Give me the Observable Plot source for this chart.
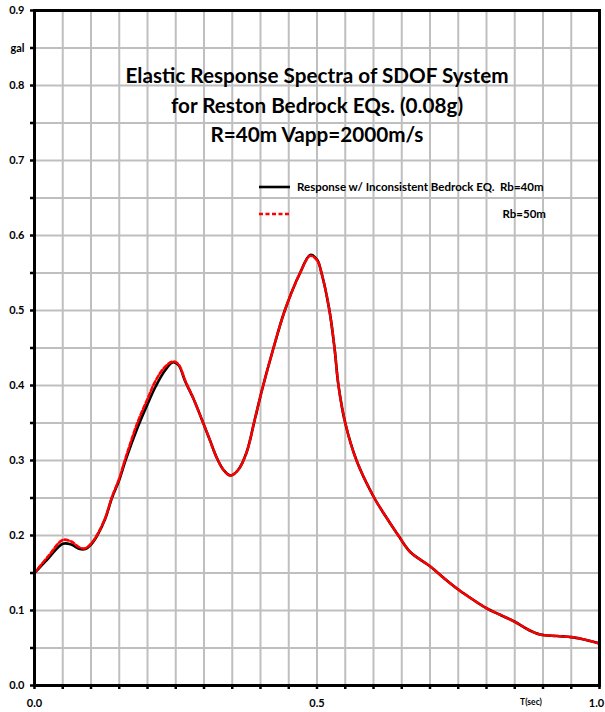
<!DOCTYPE html>
<html><head><meta charset="utf-8">
<script src="https://cdn.jsdelivr.net/npm/d3@7"></script>
<script src="https://cdn.jsdelivr.net/npm/@observablehq/plot@0.6"></script>
<style>body{margin:0;background:#fff}#chart svg{display:block;overflow:visible}</style>
</head><body><div id="chart"></div>
<script>
const periods = [0, 0.025, 0.05, 0.065, 0.08, 0.09, 0.1, 0.111, 0.125, 0.137, 0.15, 0.161, 0.183, 0.2, 0.214, 0.23, 0.245, 0.255, 0.267, 0.281, 0.296, 0.31, 0.323, 0.335, 0.347, 0.36, 0.375, 0.39, 0.403, 0.423, 0.443, 0.47, 0.488, 0.5, 0.508, 0.522, 0.531, 0.538, 0.55, 0.57, 0.6, 0.622, 0.644, 0.665, 0.7, 0.725, 0.75, 0.775, 0.8, 0.825, 0.85, 0.875, 0.895, 0.925, 0.95, 0.975, 1.0];
const rb40 = [0.150, 0.170, 0.189, 0.188, 0.182, 0.182, 0.188, 0.200, 0.222, 0.250, 0.274, 0.300, 0.345, 0.375, 0.398, 0.419, 0.431, 0.427, 0.405, 0.383, 0.355, 0.328, 0.303, 0.287, 0.280, 0.287, 0.310, 0.355, 0.395, 0.450, 0.500, 0.550, 0.574, 0.568, 0.550, 0.500, 0.450, 0.400, 0.350, 0.300, 0.252, 0.225, 0.200, 0.178, 0.159, 0.143, 0.128, 0.115, 0.103, 0.094, 0.085, 0.074, 0.068, 0.066, 0.0645, 0.061, 0.056];
const rb50 = [0.150, 0.173, 0.194, 0.192, 0.184, 0.183, 0.189, 0.201, 0.223, 0.251, 0.276, 0.303, 0.352, 0.382, 0.406, 0.424, 0.432, 0.428, 0.406, 0.383, 0.355, 0.328, 0.303, 0.287, 0.280, 0.287, 0.310, 0.355, 0.395, 0.450, 0.500, 0.550, 0.573, 0.567, 0.550, 0.500, 0.450, 0.400, 0.350, 0.300, 0.252, 0.225, 0.200, 0.178, 0.159, 0.143, 0.128, 0.115, 0.103, 0.094, 0.085, 0.074, 0.068, 0.066, 0.0645, 0.061, 0.056];

const xTicks = [0, 0.05, 0.1, 0.15, 0.2, 0.25, 0.3, 0.35, 0.4, 0.45, 0.5, 0.55, 0.6, 0.65, 0.7, 0.75, 0.8, 0.85, 0.9, 0.95, 1.0];
const yTicks = [0, 0.05, 0.1, 0.15, 0.2, 0.25, 0.3, 0.35, 0.4, 0.45, 0.5, 0.55, 0.6, 0.65, 0.7, 0.75, 0.8, 0.85, 0.9];
const xLabelValues = [0, 0.5];
const xLabelTexts = ["0.0", "0.5"];
const xEndValue = [1.0];
const xEndText = "1.0";
const yLabelValues = [0, 0.1, 0.2, 0.3, 0.4, 0.5, 0.6, 0.7, 0.8, 0.85, 0.9];
const yLabelTexts = ["0.0", "0.1", "0.2", "0.3", "0.4", "0.5", "0.6", "0.7", "0.8", "gal", "0.9"];
const xUnitValue = [0.9];
const xUnitText = "T(sec)";
const titleLines = ["Elastic Response Spectra of SDOF System", "for Reston Bedrock EQs. (0.08g)", "R=40m Vapp=2000m/s"];
const legendLabels = ["Response w/ Inconsistent Bedrock EQ.  Rb=40m", "Rb=50m"];

const table = periods.map((t, i) => ({t, v40: rb40[i], v50: rb50[i]}));
const fmt = (vals, texts) => d => { const i = vals.findIndex(v => Math.abs(v - d) < 1e-9); return i < 0 ? "" : texts[i]; };

const plot = Plot.plot({
  width: 605, height: 712,
  marginLeft: 34, marginRight: 6, marginTop: 10, marginBottom: 27,
  x: {domain: [0, 1], label: null},
  y: {domain: [0, 0.9], label: null},
  style: {fontFamily: "Lato, sans-serif", background: "white", color: "black"},
  marks: [
    Plot.ruleX(xTicks.slice(1, -1), {stroke: "#bfbfbf", strokeWidth: 2}),
    Plot.ruleY(yTicks.slice(1, -1), {stroke: "#bfbfbf", strokeWidth: 2}),
    Plot.axisY({ticks: yTicks, label: null, tickSize: 4, tickPadding: 6, strokeWidth: 2.5, tickFormat: fmt(yLabelValues, yLabelTexts), fontSize: 11, fontWeight: "bold"}),
    Plot.axisX({ticks: xTicks, label: null, tickSize: 4, strokeWidth: 2.5, text: null}),
    Plot.axisX({ticks: xLabelValues, label: null, tickSize: 0, tickPadding: 14, tickFormat: fmt(xLabelValues, xLabelTexts), fontSize: 11, fontWeight: "bold"}),
    Plot.axisX({ticks: xEndValue, label: null, tickSize: 0, tickPadding: 14, dx: -3, tickFormat: () => xEndText, fontSize: 11, fontWeight: "bold"}),
    Plot.axisX({ticks: xUnitValue, label: null, tickSize: 0, tickPadding: 13, dx: -12, tickFormat: () => xUnitText, fontSize: 8.5, fontWeight: "bold"}),
    Plot.line(table, {x: "t", y: "v40", stroke: "black", strokeWidth: 2.6, curve: "catmull-rom"}),
    Plot.line(table, {x: "t", y: "v50", stroke: "#ff0000", strokeWidth: 2.6, strokeDasharray: "4,2.5", curve: "catmull-rom"}),
    Plot.frame({stroke: "black", strokeWidth: 3}),
    Plot.text([titleLines.join("\n")], {frameAnchor: "top", dy: 52, lineHeight: 1.42, fontSize: 20.7, fontWeight: "bold", fill: "black"})
  ]
});

// legend (pixel layout)
const svg = d3.select(plot);
const lg = svg.append("g").attr("font-family", "Lato, sans-serif").attr("font-weight", "bold").attr("font-size", 11.5).attr("text-anchor", "start").attr("fill", "black");
lg.append("line").attr("x1", 259).attr("x2", 290).attr("y1", 187).attr("y2", 187).attr("stroke", "black").attr("stroke-width", 2.6);
lg.append("line").attr("x1", 259).attr("x2", 290).attr("y1", 214).attr("y2", 214).attr("stroke", "#ff0000").attr("stroke-width", 2.6).attr("stroke-dasharray", "4,2.5");
lg.append("text").attr("x", 297).attr("y", 187).attr("dy", "0.35em").attr("text-anchor", "start").text(legendLabels[0]);
lg.append("text").attr("x", 546).attr("y", 214).attr("dy", "0.35em").attr("text-anchor", "end").text(legendLabels[1]);

document.getElementById("chart").appendChild(plot);
</script>
</body></html>
